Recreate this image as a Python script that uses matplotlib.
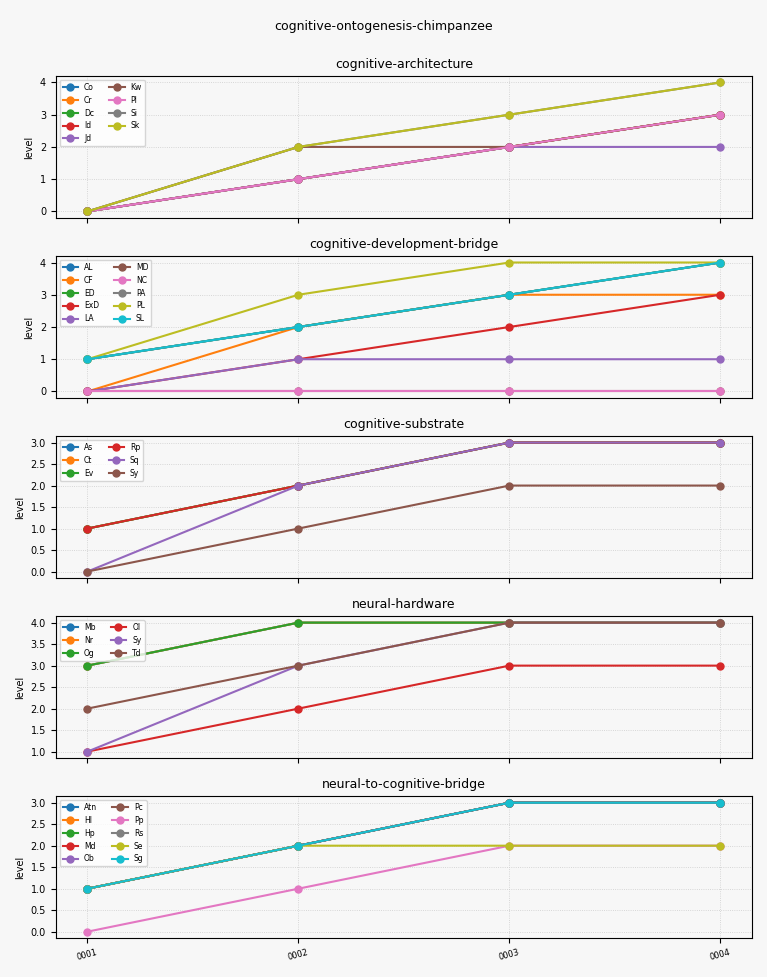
import matplotlib
matplotlib.use("Agg")
import matplotlib.pyplot as plt
from matplotlib.ticker import MultipleLocator

x_labels = ["0001", "0002", "0003", "0004"]

p1_title = "cognitive-architecture"
p1_names = ["Co", "Cr", "Dc", "Id", "Jd", "Kw", "Pl", "Si", "Sk"]
p1_vals = [[0,1,2,3],[0,1,2,3],[0,1,2,3],[0,1,2,3],[0,1,2,2],[0,2,2,3],[0,1,2,3],[0,2,3,4],[0,2,3,4]]

p2_title = "cognitive-development-bridge"
p2_names = ["AL", "CF", "ED", "ExD", "LA", "MD", "NC", "PA", "PL", "SL"]
p2_vals = [[1,2,3,4],[0,2,3,3],[1,2,3,4],[0,1,2,3],[0,1,1,1],[0,0,0,0],[0,0,0,0],[1,2,3,4],[1,3,4,4],[1,2,3,4]]

p3_title = "cognitive-substrate"
p3_names = ["As", "Ct", "Ev", "Rp", "Sq", "Sy"]
p3_vals = [[1,2,3,3],[1,2,3,3],[1,2,3,3],[1,2,3,3],[0,2,3,3],[0,1,2,2]]

p4_title = "neural-hardware"
p4_names = ["Mb", "Nr", "Og", "Ol", "Sy", "Td"]
p4_vals = [[3,4,4,4],[3,4,4,4],[3,4,4,4],[1,2,3,3],[1,3,4,4],[2,3,4,4]]

p5_title = "neural-to-cognitive-bridge"
p5_names = ["Atn", "Hl", "Hp", "Md", "Ob", "Pc", "Pp", "Rs", "Se", "Sg"]
p5_vals = [[1,2,3,3],[1,2,3,3],[1,2,3,3],[1,2,3,3],[1,2,3,3],[1,2,3,3],[0,1,2,2],[1,2,3,3],[1,2,2,2],[1,2,3,3]]

panels = [(p1_title, p1_names, p1_vals, 1, "int"),
          (p2_title, p2_names, p2_vals, 1, "int"),
          (p3_title, p3_names, p3_vals, 0.5, "f"),
          (p4_title, p4_names, p4_vals, 0.5, "f"),
          (p5_title, p5_names, p5_vals, 0.5, "f")]

bg = "#f7f7f7"
fig, axes = plt.subplots(5, 1, figsize=(7.67, 9.77), dpi=100, sharex=True, facecolor=bg)
xs = list(range(len(x_labels)))
for ax, (title, names, vals, step, fmt) in zip(axes, panels):
    ax.set_facecolor(bg)
    for n, v in zip(names, vals):
        ax.plot(xs, v, marker="o", markersize=5, linewidth=1.5, label=n)
    ax.set_title(title, fontsize=9)
    ax.set_ylabel("level", fontsize=7)
    ax.yaxis.set_major_locator(MultipleLocator(step))
    if fmt == "int":
        ax.yaxis.set_major_formatter(matplotlib.ticker.FormatStrFormatter("%d"))
    else:
        ax.yaxis.set_major_formatter(matplotlib.ticker.FormatStrFormatter("%.1f"))
    ax.tick_params(axis="both", labelsize=7)
    ax.grid(True, linestyle=":", linewidth=0.6, color="#cccccc")
    ax.legend(loc="upper left", ncol=2, fontsize=5.5, framealpha=0.8)
axes[-1].set_xticks(xs)
axes[-1].set_xticklabels(x_labels, rotation=15, fontsize=6)
fig.suptitle("cognitive-ontogenesis-chimpanzee", fontsize=9)
fig.tight_layout(rect=[0, 0, 1, 0.985])
fig.savefig("out.png", dpi=100, facecolor=bg)
